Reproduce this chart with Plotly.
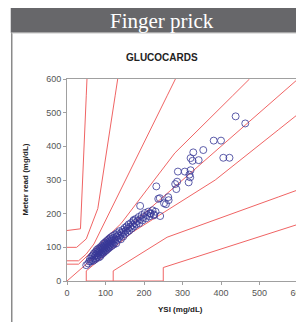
import plotly.graph_objects as go

# ---- data ----
ysi_sparse = [438, 463, 381, 400, 406, 422, 354, 328, 321, 326, 342, 288, 306, 321, 318, 320, 316, 286, 281, 284,
              232, 237, 241, 263, 264, 252, 257, 226, 242, 190, 216, 173, 50, 58]
meter_sparse = [489, 468, 417, 417, 366, 366, 389, 382, 365, 357, 359, 325, 325, 329, 316, 308, 293, 295, 288, 273,
                281, 244, 246, 249, 240, 231, 228, 195, 193, 223, 201, 181, 47, 58]

ysi_dense = [55, 60, 62, 64, 65, 67, 68, 70, 70, 72, 73, 74, 75, 76, 77, 78, 79, 80, 80, 81, 82, 83, 84, 85, 86, 86,
             87, 88, 89, 90, 90, 91, 92, 93, 94, 94, 95, 96, 97, 98, 98, 99, 100, 101, 102, 102, 103, 104, 105, 106,
             106, 107, 108, 109, 110, 110, 111, 112, 113, 114, 115, 116, 117, 118, 119, 120, 121, 122, 124, 125, 126,
             128, 129, 130, 131, 133, 135, 136, 138, 140, 141, 143, 145, 146, 148, 150, 151, 153, 155, 157, 158, 160,
             162, 164, 166, 168, 170, 172, 174, 176, 178, 180, 183, 186, 188, 191, 194, 196, 199, 202, 205, 208, 211,
             214, 218, 222, 226, 230]
meter_dense = [52, 66, 58, 72, 62, 76, 60, 68, 82, 74, 64, 86, 78, 68, 92, 82, 72, 88, 76, 96, 84, 70, 92, 80, 100, 88,
               74, 96, 84, 104, 92, 80, 100, 88, 110, 96, 84, 104, 92, 114, 100, 88, 108, 96, 118, 104, 92, 112, 100,
               122, 108, 96, 116, 104, 126, 112, 100, 120, 108, 130, 116, 104, 124, 112, 134, 120, 108, 128, 116, 138,
               124, 112, 132, 142, 122, 136, 128, 148, 134, 124, 144, 138, 152, 132, 146, 158, 140, 150, 162, 146, 156,
               168, 150, 160, 172, 156, 166, 178, 162, 172, 184, 168, 178, 190, 172, 184, 196, 180, 190, 202, 186, 196,
               206, 192, 200, 210, 198, 206]

# Parkes error grid boundaries (extended to 600)
identity = [0, 300, 600]
grid_x = {
    "A_upper": [0, 30, 140, 280, 430, 474],
    "B_upper": [0, 30, 50, 70, 260, 281.6],
    "C_upper": [0, 25, 50, 80, 125, 131.7],
    "D_upper": [0, 35, 50, 51.9],
    "A_lower": [50, 50, 170, 385, 550, 600],
    "B_lower": [50, 120, 120, 260, 550, 600],
    "C_lower": [120, 250, 250, 550, 600],
}
grid_y = {
    "A_upper": [50, 50, 170, 380, 550, 600],
    "B_upper": [60, 60, 80, 110, 550, 600],
    "C_upper": [100, 100, 125, 215, 550, 600],
    "D_upper": [150, 155, 550, 600],
    "A_lower": [0, 30, 145, 300, 450, 495.5],
    "B_lower": [0, 0, 30, 130, 250, 270.7],
    "C_lower": [0, 0, 40, 150, 168.3],
}

ticks = [0, 100, 200, 300, 400, 500, 600]

RED = "#f06464"
fig = go.Figure()
fig.add_trace(go.Scatter(x=identity, y=identity, mode="lines",
                         line=dict(color=RED, width=1), hoverinfo="skip", showlegend=False))
for name in grid_x:
    fig.add_trace(go.Scatter(x=grid_x[name], y=grid_y[name], mode="lines",
                             line=dict(color=RED, width=1),
                             hoverinfo="skip", showlegend=False))

fig.add_trace(go.Scatter(x=ysi_dense + ysi_sparse, y=meter_dense + meter_sparse, mode="markers",
                         marker=dict(symbol="circle-open", size=7, color="rgba(55,55,150,0.8)",
                                     line=dict(width=1, color="rgba(55,55,150,0.8)")),
                         showlegend=False))

axis_common = dict(range=[0, 600], tickvals=ticks, showgrid=False, zeroline=False,
                   showline=True, linecolor="#a0a0a0", linewidth=1, mirror=True,
                   ticks="outside", ticklen=3, tickcolor="#a0a0a0", automargin=False,
                   ticklabeloverflow="allow",
                   tickfont=dict(family="Liberation Sans, Arial", size=9, color="#555555"),
                   layer="below traces")

# page is offset by the 8px default body margin
OFF = 8
W, H = 304 - OFF, 322 - OFF
L, R, T, B = 66.5 - OFF, 5.5, 79.3 - OFF, 41
PW, PH = W - L - R, H - T - B


def px_x(px):
    return (px - OFF - L) / PW


def px_y(py):
    return (H - B - (py - OFF)) / PH


fig.update_layout(
    width=W, height=H,
    margin=dict(l=L, r=R, t=T, b=B, autoexpand=False),
    paper_bgcolor="white", plot_bgcolor="white",
    xaxis=axis_common,
    yaxis=axis_common,
    shapes=[
        dict(type="rect", xref="paper", yref="paper", layer="below",
             x0=px_x(10), x1=px_x(304), y0=px_y(33), y1=px_y(8),
             fillcolor="#67676a", line=dict(width=0)),
        dict(type="line", xref="paper", yref="paper", layer="below",
             x0=px_x(11), x1=px_x(11), y0=px_y(322), y1=px_y(33),
             line=dict(color="#8a8a8a", width=1.5)),
        dict(type="line", xref="paper", yref="paper", layer="below",
             x0=px_x(11), x1=px_x(304), y0=px_y(33.5), y1=px_y(33.5),
             line=dict(color="#d0d0d0", width=1)),
    ],
    annotations=[
        dict(text="Finger prick", xref="paper", yref="paper", x=px_x(162), y=px_y(21),
             showarrow=False, xanchor="center", yanchor="middle", borderpad=0,
             font=dict(family="Liberation Serif, DejaVu Serif", size=21, color="white")),
        dict(text="<b>GLUCOCARDS</b>", xref="paper", yref="paper", x=px_x(162), y=px_y(58),
             showarrow=False, xanchor="center", yanchor="middle",
             font=dict(family="Liberation Sans, Arial", size=10, color="#222222")),
        dict(text="<b>YSI (mg/dL)</b>", xref="paper", yref="paper", x=px_x(180), y=px_y(309),
             showarrow=False, xanchor="center", yanchor="middle",
             font=dict(family="Liberation Sans, Arial", size=8, color="#222222")),
        dict(text="<b>Meter read (mg/dL)</b>", xref="paper", yref="paper", x=px_x(25), y=px_y(180),
             showarrow=False, xanchor="center", yanchor="middle", textangle=-90,
             font=dict(family="Liberation Sans, Arial", size=8, color="#222222")),
    ],
)

fig.write_html("out.html")
